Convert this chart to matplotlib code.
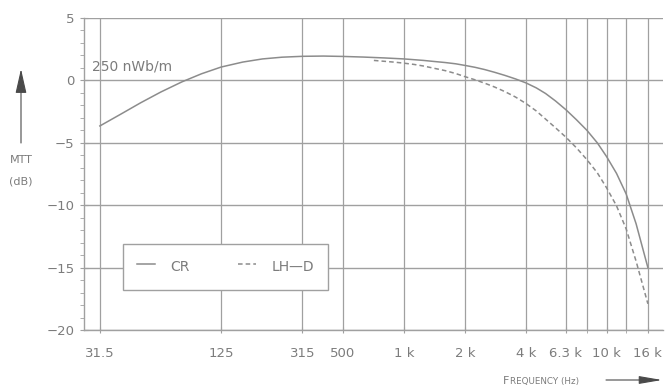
import numpy as np
import matplotlib
matplotlib.use("Agg")
import matplotlib.pyplot as plt
from matplotlib.patches import FancyArrowPatch
from matplotlib.ticker import FixedLocator, NullFormatter, NullLocator

plt.rcParams['font.family'] = ['DejaVu Sans']

# ---- data ----
cr_freq = [31.5, 40, 50, 63, 80, 100, 125, 160, 200, 250, 315, 400, 500, 630,
           800, 1000, 1120, 1250, 1400, 1600, 1800, 2000, 2240, 2500, 2800,
           3150, 3550, 4000, 4500, 5000, 5600, 6300, 7100, 8000, 9000, 10000,
           11200, 12500, 14000, 16000]
cr_db = [-3.65, -2.7, -1.8, -0.93, -0.12, 0.53, 1.07, 1.47, 1.72, 1.86, 1.93,
         1.95, 1.92, 1.87, 1.8, 1.72, 1.66, 1.6, 1.52, 1.43, 1.33, 1.2, 1.05,
         0.87, 0.65, 0.4, 0.12, -0.2, -0.6, -1.05, -1.65, -2.35, -3.15, -4.0,
         -5.0, -6.1, -7.45, -9.1, -11.5, -15.0]

lhd_freq = [710, 800, 900, 1000, 1120, 1250, 1400, 1600, 1800, 2000, 2240,
            2500, 2800, 3150, 3550, 4000, 4500, 5000, 5600, 6300, 7100, 8000,
            9000, 10000, 11200, 12500, 14000, 16000]
lhd_db = [1.6, 1.53, 1.46, 1.38, 1.28, 1.15, 0.98, 0.78, 0.55, 0.3, 0.05,
          -0.22, -0.53, -0.9, -1.33, -1.85, -2.45, -3.1, -3.8, -4.55, -5.4,
          -6.35, -7.4, -8.6, -10.05, -11.9, -14.5, -17.9]

grid_freqs = [31.5, 125, 315, 500, 1000, 2000, 4000, 6300, 8000, 10000, 12500, 16000]
label_freqs = [31.5, 125, 315, 500, 1000, 2000, 4000, 6300, 10000, 16000]
freq_labels = ["31.5", "125", "315", "500", "1 k", "2 k", "4 k", "6.3 k", "10 k", "16 k"]
y_ticks = [5, 0, -5, -10, -15, -20]
y_labels = ["5", "0", "\u22125", "\u221210", "\u221215", "\u221220"]

series_names = ["CR", "LH\u2014D"]

GRID = "#a0a0a0"
LINE = "#8c8c8c"
TXT = "#7c7c7c"

fig = plt.figure(figsize=(6.65, 3.90), dpi=100)
ax = fig.add_axes([84 / 665, 1 - 330 / 390, (663 - 84) / 665, (330 - 18) / 390])

ax.set_xscale("log")
ax.set_xlim(26.3, 19000)
ax.set_ylim(-20, 5)

# grid
for f in grid_freqs:
    ax.axvline(f, color=GRID, lw=0.9, zorder=1)
for y in y_ticks:
    ax.axhline(y, color=GRID, lw=1.0, zorder=1)

# curves
ax.plot(cr_freq, cr_db, color=LINE, lw=1.1, zorder=3, label=series_names[0])
ax.plot(lhd_freq, lhd_db, color=LINE, lw=1.1, ls=(0, (3, 2)), zorder=3,
        label=series_names[1])

# axes / ticks
for s in ["top", "right"]:
    ax.spines[s].set_visible(False)
for s in ["left", "bottom"]:
    ax.spines[s].set_color(GRID)
    ax.spines[s].set_linewidth(1.0)

ax.xaxis.set_major_locator(FixedLocator(label_freqs))
ax.xaxis.set_minor_locator(FixedLocator([8000, 12500]))
ax.set_xticklabels(freq_labels)
ax.xaxis.set_minor_formatter(NullFormatter())
ax.tick_params(axis="x", which="both", length=4, direction="inout", color=GRID,
               labelsize=9.5, labelcolor=TXT, pad=10)

ax.set_yticks(y_ticks)
ax.set_yticklabels(y_labels)
ax.yaxis.set_minor_locator(FixedLocator(np.arange(-20, 5.1, 1)))
ax.tick_params(axis="y", which="major", length=6, direction="inout", color=GRID,
               labelsize=9.5, labelcolor=TXT, pad=4)
ax.tick_params(axis="y", which="minor", length=3, direction="out", color=GRID)

# annotation
fig.text(92 / 665, 1 - 67 / 390, "250 nWb/m", fontsize=10, color=TXT,
         va="center", ha="left")

# legend
leg = ax.legend(loc="center left", bbox_to_anchor=(123 / 665, 1 - 267 / 390),
                bbox_transform=fig.transFigure, ncol=2, frameon=True,
                fancybox=False, fontsize=10, handlelength=1.3, handletextpad=1.1,
                handleheight=1.75, columnspacing=3.5, borderpad=1.0, borderaxespad=0)
frame = leg.get_frame()
frame.set_edgecolor(GRID)
frame.set_linewidth(1.0)
frame.set_facecolor("white")
frame.set_alpha(1)
for t in leg.get_texts():
    t.set_color(TXT)
leg.set_zorder(5)

# y-axis label with arrow
fig.text(21 / 665, 1 - 160 / 390, "MTT", fontsize=8, color=TXT, ha="center", va="center")
fig.text(21 / 665, 1 - 181 / 390, "(dB)", fontsize=8, color=TXT, ha="center", va="center")
fig.add_artist(FancyArrowPatch(
    (21 / 665, 1 - 143 / 390), (21 / 665, 1 - 69 / 390), transform=fig.transFigure,
    arrowstyle="-|>,head_length=15,head_width=3.4", color="#4a4a4a", lw=0.8,
    mutation_scale=1, shrinkA=0, shrinkB=0))

# x-axis label in small caps with arrow
tF = fig.text(503 / 665, 1 - 384 / 390, "F", fontsize=8, color=TXT, ha="left", va="baseline")
ax.annotate("REQUENCY (Hz)", xy=(1, 0), xycoords=tF, xytext=(0.8, 0),
            textcoords="offset points", fontsize=6.3, color=TXT, ha="left", va="bottom",
            annotation_clip=False)
fig.add_artist(FancyArrowPatch(
    (606 / 665, 1 - 380 / 390), (662 / 665, 1 - 380 / 390), transform=fig.transFigure,
    arrowstyle="-|>,head_length=14,head_width=2.4", color="#4a4a4a", lw=0.8,
    mutation_scale=1, shrinkA=0, shrinkB=0))

fig.savefig("out.png", dpi=100, facecolor="white")
